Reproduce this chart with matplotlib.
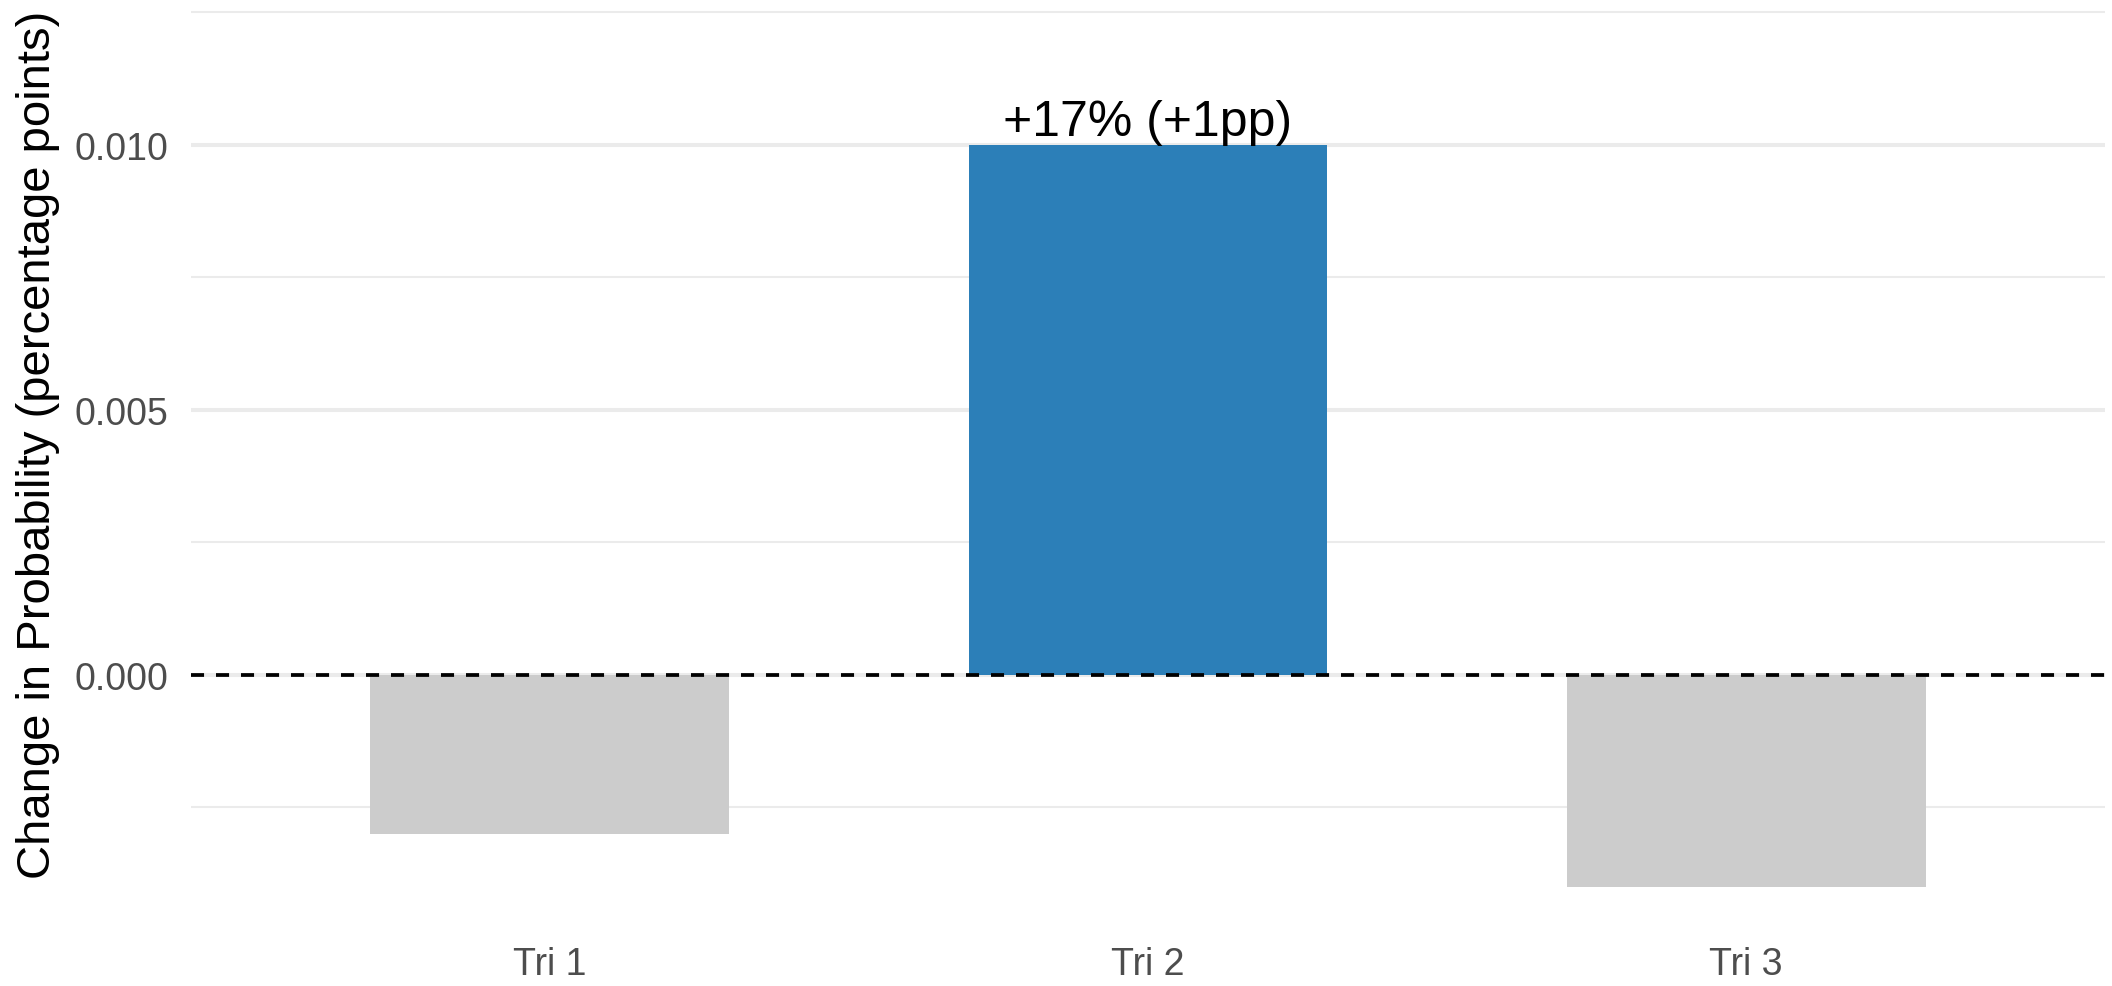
import matplotlib
matplotlib.use("Agg")
import matplotlib.pyplot as plt
from matplotlib.ticker import FixedLocator

categories = ["Tri 1", "Tri 2", "Tri 3"]
values = [-0.003, 0.010, -0.004]
highlight = [False, True, False]
label_text = "+17% (+1pp)"
label_index = 1
major_ticks = [0.000, 0.005, 0.010]
minor_ticks = [-0.0025, 0.0025, 0.0075, 0.0125]

plt.rcParams['font.family'] = ['Liberation Sans', 'DejaVu Sans']
plt.rcParams['lines.scale_dashes'] = False

W, H = 2112, 987
fig = plt.figure(figsize=(W / 100, H / 100), dpi=100)
ax = fig.add_axes([191 / W, (H - 925) / H, (2105 - 191) / W, (925 - 5) / H])

x = list(range(1, len(categories) + 1))
colors = ["#2C7FB8" if h else "#CCCCCC" for h in highlight]
ax.bar(x, values, width=0.6, color=colors, zorder=2)

ax.set_xlim(0.4, 3.6)
ax.set_ylim(-0.0047, 0.01265)

ax.yaxis.set_major_locator(FixedLocator(major_ticks))
ax.yaxis.set_minor_locator(FixedLocator(minor_ticks))
ax.set_yticklabels([f"{t:.3f}" for t in major_ticks])
ax.set_xticks(x)
ax.set_xticklabels(categories)

ax.grid(axis='y', which='major', color='#EBEBEB', linewidth=2.9, zorder=0)
ax.grid(axis='y', which='minor', color='#EBEBEB', linewidth=1.45, zorder=0)
ax.set_axisbelow(True)

ax.axhline(0, color='black', linewidth=2.7, linestyle=(0, (9.4, 8.6)), zorder=3)

for s in ax.spines.values():
    s.set_visible(False)
ax.tick_params(axis='both', which='both', length=0)
ax.tick_params(axis='y', labelsize=27, labelcolor='#4D4D4D', pad=16)
ax.tick_params(axis='x', labelsize=27, labelcolor='#4D4D4D', pad=16)

ax.set_ylabel("Change in Probability (percentage points)", fontsize=34, color='black')
ax.yaxis.label.set_va('center')
ax.yaxis.set_label_coords((38 - 191) / 1914, 0.522)

ax.text(x[label_index], values[label_index], label_text, ha='center', va='bottom',
        fontsize=36, color='black', zorder=4)

fig.savefig("out.png", dpi=100, facecolor='white')
